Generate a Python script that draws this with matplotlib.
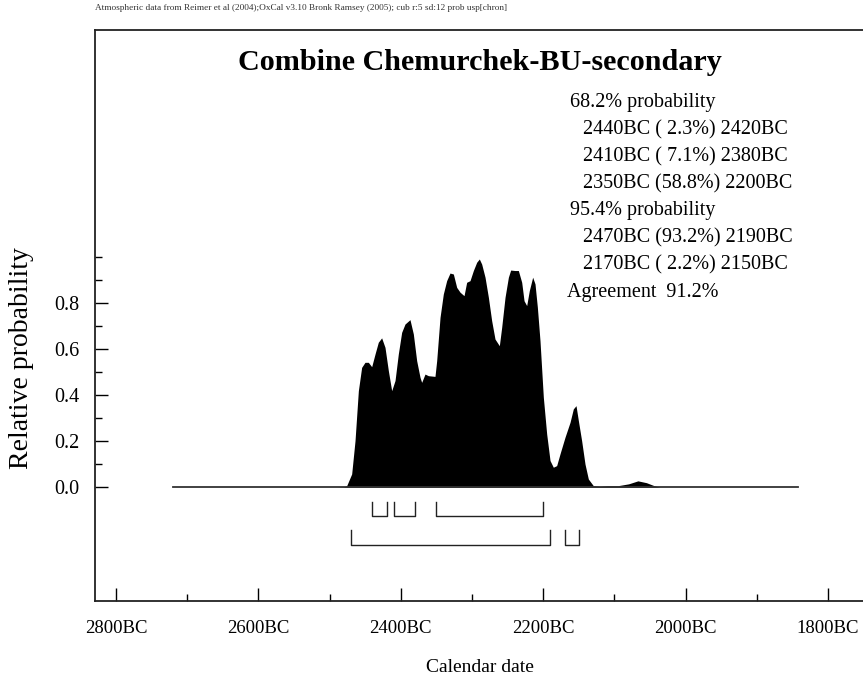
import matplotlib
matplotlib.use("Agg")
import matplotlib.pyplot as plt
from matplotlib.ticker import FixedLocator, FuncFormatter

# ---------------- data ----------------
years_bc = [2720, 2490, 2480, 2476.0, 2469.0, 2464.3, 2459.6, 2455.0, 2450.3, 2445.6, 2440.9,
            2436.2, 2431.6, 2426.9, 2422.2, 2417.5, 2412.8, 2408.1, 2403.5, 2398.8,
            2394.1, 2387.1, 2382.4, 2377.7, 2373.0, 2370.7, 2366.0, 2361.3, 2352.0,
            2349.6, 2344.9, 2340.3, 2335.6, 2330.9, 2326.2, 2321.5, 2316.8, 2311.2,
            2307.5, 2302.8, 2298.1, 2293.4, 2289.7, 2286.4, 2281.7, 2277.0, 2272.4,
            2267.7, 2261.6, 2258.3, 2253.6, 2248.9, 2245.7, 2239.6, 2234.9, 2230.2,
            2226.9, 2223.2, 2219.5, 2214.8, 2211.5, 2208.2, 2204.5, 2199.8, 2195.1,
            2190.4, 2185.8, 2181.1, 2176.4, 2169.4, 2162.3, 2157.7, 2153.9, 2150.6,
            2146.0, 2141.3, 2136.6, 2129.6, 2120.2, 2110, 2095, 2080, 2067, 2055,
            2045, 2036, 1842]
rel_prob = [0.0, 0.0, 0.002, 0.007, 0.058, 0.202, 0.419, 0.520, 0.542, 0.542, 0.523,
            0.578, 0.629, 0.648, 0.607, 0.506, 0.419, 0.463, 0.578, 0.672,
            0.708, 0.727, 0.665, 0.549, 0.477, 0.455, 0.491, 0.484, 0.481,
            0.549, 0.737, 0.838, 0.896, 0.929, 0.925, 0.867, 0.846, 0.831,
            0.889, 0.896, 0.940, 0.976, 0.990, 0.968, 0.911, 0.824, 0.723,
            0.643, 0.614, 0.694, 0.824, 0.911, 0.942, 0.940, 0.940, 0.889,
            0.809, 0.788, 0.853, 0.911, 0.882, 0.781, 0.636, 0.390, 0.231,
            0.116, 0.087, 0.094, 0.145, 0.217, 0.282, 0.340, 0.354, 0.289,
            0.202, 0.101, 0.036, 0.007, 0.004, 0.007, 0.007, 0.015, 0.028, 0.020,
            0.008, 0.0, 0.0]

range_68 = [(2440, 2420), (2410, 2380), (2350, 2200)]
range_95 = [(2470, 2190), (2170, 2150)]

title = "Combine Chemurchek-BU-secondary"
header = ("Atmospheric data from Reimer et al (2004);OxCal v3.10 Bronk Ramsey (2005); "
          "cub r:5 sd:12 prob usp[chron]")
summary_lines = [
    ("68.2% probability", 0),
    ("2440BC ( 2.3%) 2420BC", 1),
    ("2410BC ( 7.1%) 2380BC", 1),
    ("2350BC (58.8%) 2200BC", 1),
    ("95.4% probability", 0),
    ("2470BC (93.2%) 2190BC", 1),
    ("2170BC ( 2.2%) 2150BC", 1),
    ("Agreement  91.2%", -1),
]
x_ticks_bc = [2800, 2600, 2400, 2200, 2000, 1800]
y_ticks = [0.0, 0.2, 0.4, 0.6, 0.8]

# ---------------- figure ----------------
W, H = 863, 681
fig = plt.figure(figsize=(W / 100, H / 100), dpi=100)
serif = ["Liberation Serif", "DejaVu Serif"]
plt.rcParams["font.family"] = serif

L, R, T, B = 95, 866, 30, 601
ax = fig.add_axes([L / W, 1 - B / H, (R - L) / W, (B - T) / H])
ax.set_xlim(2829.5, 2829.5 - (R - 95) / 0.712)
ax.set_ylim(-0.493, 1.983)

ax.fill_between(years_bc, rel_prob, 0, color="black", linewidth=0)
ax.plot([years_bc[0], years_bc[-1]], [0, 0], color="#333333", linewidth=1.3)

# probability range brackets
def bracket(a, b, ytop, ybot):
    ax.plot([a, a, b, b], [ytop, ybot, ybot, ytop], color="#222222", linewidth=1.0)

for a, b in range_68:
    bracket(a, b, -0.064, -0.124)
for a, b in range_95:
    bracket(a, b, -0.185, -0.250)

# spines
ax.spines["right"].set_visible(False)
for s in ["top", "left", "bottom"]:
    ax.spines[s].set_linewidth(1.3)
    ax.spines[s].set_color("#222222")

ax.xaxis.set_major_locator(FixedLocator(x_ticks_bc))
ax.xaxis.set_minor_locator(FixedLocator([2700, 2500, 2300, 2100, 1900]))
ax.xaxis.set_major_formatter(FuncFormatter(lambda v, p: f"{int(round(v))}BC"))
ax.yaxis.set_major_locator(FixedLocator(y_ticks))
ax.yaxis.set_minor_locator(FixedLocator([0.1, 0.3, 0.5, 0.7, 0.9, 1.0]))
ax.yaxis.set_major_formatter(FuncFormatter(lambda v, p: f"{v:.1f}"))

ax.tick_params(axis="x", which="major", direction="in", length=9.5, width=1.0,
               pad=14, labelsize=13.5, top=False)
ax.tick_params(axis="x", which="minor", direction="in", length=5, width=1.0, top=False)
ax.tick_params(axis="y", which="major", direction="in", length=9.5, width=1.0,
               pad=11, labelsize=14.5, right=False)
ax.tick_params(axis="y", which="minor", direction="in", length=5, width=1.0, right=False)

# texts
fig.text(95 / W, 1 - 8 / H, header, fontsize=6.7, ha="left", va="center", color="#333333")
fig.text(480 / W, 1 - 62 / H, title, fontsize=21.7, fontweight="bold", ha="center", va="center")

y0, dy = 103, 27.0
for i, (txt, lvl) in enumerate(summary_lines):
    xpos = {0: 570, 1: 583, -1: 567}[lvl]
    fig.text(xpos / W, 1 - (y0 + i * dy) / H, txt, fontsize=14.5, ha="left", va="center")

fig.text(22 / W, 1 - 358 / H, "Relative probability", fontsize=20, rotation=90,
         ha="center", va="center")
fig.text(480 / W, 1 - 667 / H, "Calendar date", fontsize=14, ha="center", va="center")

fig.savefig("out.png", dpi=100)
